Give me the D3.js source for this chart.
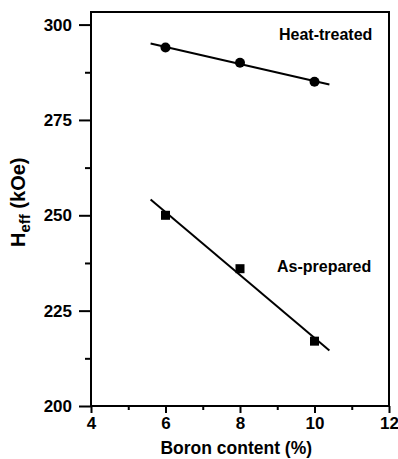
<!DOCTYPE html>
<html>
<head>
<meta charset="utf-8">
<script src="https://cdn.jsdelivr.net/npm/d3@7"></script>
<style>
  body { margin: 0; background: #fff; }
  text { font-family: "Liberation Sans", Arial, sans-serif; font-weight: bold; fill: #000; }
</style>
</head>
<body>
<div id="chart"></div>
<script>
// data
var boron = [6, 8, 10];
var heatTreated = [294, 290, 285];
var asPrepared = [250, 236, 217];
var xTicks = [4, 6, 8, 10, 12];
var yTicks = [200, 225, 250, 275, 300];
var fitRange = [5.6, 10.4];

var margin = {top: 12, right: 9, bottom: 53, left: 91};
var width = 398 - margin.left - margin.right;
var height = 459 - margin.top - margin.bottom;

var svg = d3.select("#chart")
    .append("svg")
    .attr("width", 398)
    .attr("height", 459)
  .append("g")
    .attr("transform", "translate(" + margin.left + "," + margin.top + ")");

var x = d3.scaleLinear().domain([4, 12]).range([0, width]);
var y = d3.scaleLinear().domain([200, 303.3]).range([height, 0]);

// least squares line
function fit(xs, ys) {
  var mx = d3.mean(xs), my = d3.mean(ys);
  var num = d3.sum(xs, function(d, i) { return (d - mx) * (ys[i] - my); });
  var den = d3.sum(xs, function(d) { return (d - mx) * (d - mx); });
  var b = num / den;
  return function(v) { return my + b * (v - mx); };
}

// frame
svg.append("rect")
    .attr("width", width)
    .attr("height", height)
    .style("fill", "none")
    .style("stroke", "#000")
    .style("stroke-width", 2);

// minor ticks
svg.append("g")
    .attr("transform", "translate(0," + height + ")")
    .call(d3.axisBottom(x).tickValues([5, 7, 9, 11]).tickSize(4).tickFormat(""))
    .call(function(g) { g.select(".domain").remove(); g.selectAll("line").style("stroke-width", 2); });
svg.append("g")
    .call(d3.axisLeft(y).tickValues([212.5, 237.5, 262.5, 287.5]).tickSize(6).tickFormat(""))
    .call(function(g) { g.select(".domain").remove(); g.selectAll("line").style("stroke-width", 2); });

// major ticks
var xAxis = svg.append("g")
    .attr("transform", "translate(0," + height + ")")
    .call(d3.axisBottom(x).tickValues(xTicks).tickSize(7).tickPadding(4));
xAxis.select(".domain").remove();
xAxis.selectAll("line").style("stroke-width", 2);
xAxis.selectAll("text").style("font-size", "17px");

var yAxis = svg.append("g")
    .call(d3.axisLeft(y).tickValues(yTicks).tickSize(12).tickPadding(7));
yAxis.select(".domain").remove();
yAxis.selectAll("line").style("stroke-width", 2);
yAxis.selectAll("text").style("font-size", "17px");

// fit lines
[heatTreated, asPrepared].forEach(function(series) {
  var f = fit(boron, series);
  svg.append("line")
      .attr("x1", x(fitRange[0])).attr("y1", y(f(fitRange[0])))
      .attr("x2", x(fitRange[1])).attr("y2", y(f(fitRange[1])))
      .style("stroke", "#000")
      .style("stroke-width", 2);
});

// markers
svg.selectAll(".ht")
    .data(boron)
  .enter().append("circle")
    .attr("class", "ht")
    .attr("cx", function(d) { return x(d); })
    .attr("cy", function(d, i) { return y(heatTreated[i]); })
    .attr("r", 5)
    .style("fill", "#000");

svg.selectAll(".ap")
    .data(boron)
  .enter().append("rect")
    .attr("class", "ap")
    .attr("x", function(d) { return x(d) - 4.5; })
    .attr("y", function(d, i) { return y(asPrepared[i]) - 4.5; })
    .attr("width", 9)
    .attr("height", 9)
    .style("fill", "#000");

// labels
svg.append("text")
    .attr("x", 188).attr("y", 28)
    .style("font-size", "16px")
    .text("Heat-treated");
svg.append("text")
    .attr("x", 186).attr("y", 260)
    .style("font-size", "16px")
    .text("As-prepared");

// axis titles
svg.append("text")
    .attr("x", x(7.9)).attr("y", height + 48)
    .attr("text-anchor", "middle")
    .style("font-size", "17.5px")
    .text("Boron content (%)");

var yt = svg.append("text")
    .attr("transform", "translate(" + (25 - margin.left) + "," + (247 - margin.top) + ") rotate(-90)")
    .style("font-size", "20px");
yt.append("tspan").text("H");
yt.append("tspan").attr("dy", 5).style("font-size", "15px").text("eff");
yt.append("tspan").attr("dy", -5).text(" (kOe)");
</script>
</body>
</html>
